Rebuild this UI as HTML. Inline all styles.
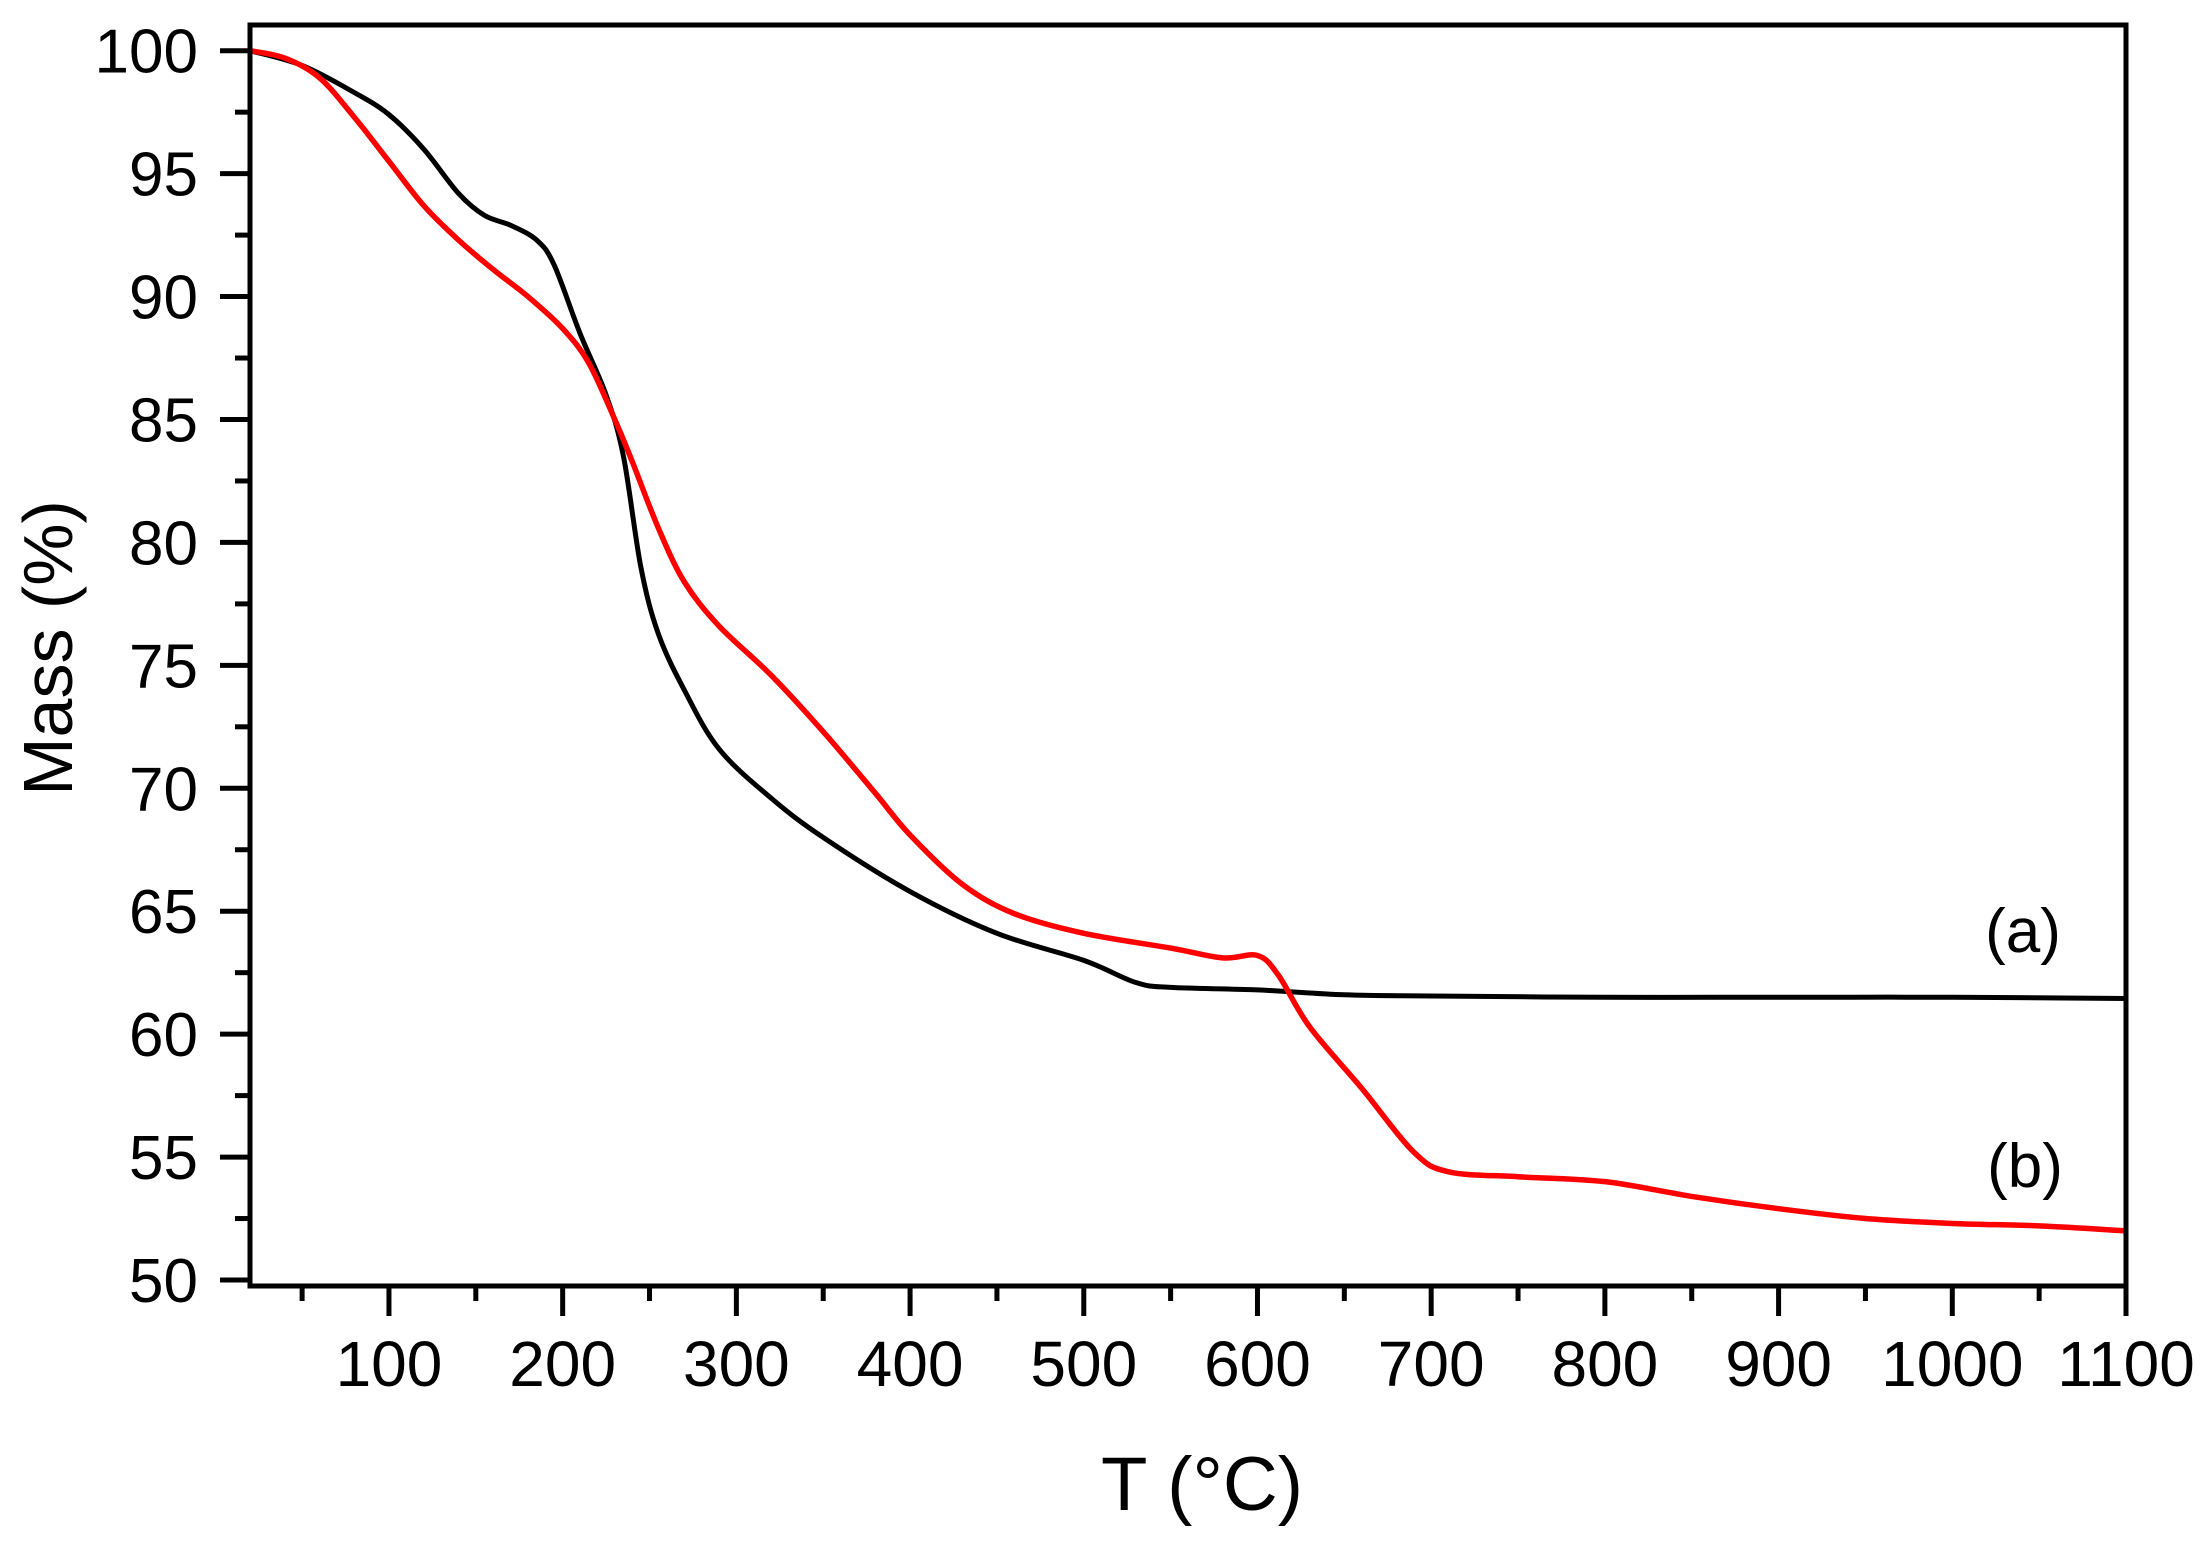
<!DOCTYPE html>
<html><head><meta charset="utf-8"><style>
body{margin:0;background:#fff}
svg{display:block;font-family:"Liberation Sans",Arial,sans-serif}
</style></head><body>
<svg id="chart" width="2210" height="1547" viewBox="0 0 2210 1547">
<g id="grid"></g>
<g id="series"></g>
<rect x="250" y="25" width="1876" height="1261" fill="none" stroke="#000" stroke-width="5"/>
<g id="axes"></g>
<text x="1202" y="1510" font-size="76" text-anchor="middle">T (°C)</text>
<text transform="translate(72,648) rotate(-90)" font-size="70" text-anchor="middle">Mass (%)</text>
<text x="2023" y="952" font-size="62" text-anchor="middle">(a)</text>
<text x="2025" y="1187" font-size="62" text-anchor="middle">(b)</text>
</svg>
<script>
const xTicks=[100,200,300,400,500,600,700,800,900,1000,1100];
const yTicks=[50,55,60,65,70,75,80,85,90,95,100];
const tA=[20,50,80,100,120,140,155,170,185,195,210,225,235,245,255,270,290,320,350,400,450,500,530,550,600,650,700,800,900,1000,1100];
const mA=[100,99.4,98.3,97.4,96.0,94.2,93.3,92.9,92.3,91.3,88.5,86.0,83.5,79,76.3,74,71.6,69.6,68,65.8,64.1,63.0,62.1,61.9,61.8,61.6,61.55,61.5,61.5,61.5,61.45];
const tB=[20,40,60,80,100,120,140,160,180,200,215,230,240,255,270,290,320,350,380,400,430,460,500,550,580,600,612,630,660,690,710,750,800,850,900,950,1000,1050,1100];
const mB=[100,99.7,98.9,97.3,95.5,93.7,92.3,91.1,90.0,88.7,87.3,85.0,83.3,80.6,78.4,76.6,74.6,72.3,69.8,68.1,66.1,64.9,64.1,63.5,63.1,63.2,62.4,60.3,57.8,55.2,54.4,54.2,54.0,53.4,52.9,52.5,52.3,52.2,52.0];
const X=v=>250+(v-20)*(2126-250)/1080;
const Y=v=>1280-(v-50)*(1280-50.7)/50;
const NS='http://www.w3.org/2000/svg';
function mk(t,a,p){const e=document.createElementNS(NS,t);for(const k in a)e.setAttribute(k,a[k]);p.appendChild(e);return e;}
const ax=document.getElementById('axes');
for(let v=50;v<=1100;v+=50){
  const major=xTicks.includes(v);
  const l=mk('line',{x1:X(v),x2:X(v),y1:1286,y2:1286+(major?30:15),stroke:'#000','stroke-width':5},ax);
  
  
}
xTicks.forEach(v=>{const t=mk('text',{x:X(v),y:1386,'font-size':64,'text-anchor':'middle'},ax);t.textContent=v;
  
  });
for(let v=50;v<=100;v+=2.5){
  const major=yTicks.includes(v);
  const l=mk('line',{x1:250-(major?30:15),x2:250,y1:Y(v),y2:Y(v),stroke:'#000','stroke-width':5},ax);
  
  
}
yTicks.forEach(v=>{const t=mk('text',{x:198,y:Y(v)+22,'font-size':62,'text-anchor':'end'},ax);t.textContent=v;
  
  });
function path(xs,ys){
  const p=xs.map((x,i)=>[X(x),Y(ys[i])]);
  let d='M'+p[0][0]+','+p[0][1];
  for(let i=0;i<p.length-1;i++){
    const p0=p[Math.max(i-1,0)],p1=p[i],p2=p[i+1],p3=p[Math.min(i+2,p.length-1)];
    const c1=[p1[0]+(p2[0]-p0[0])/6,p1[1]+(p2[1]-p0[1])/6];
    const c2=[p2[0]-(p3[0]-p1[0])/6,p2[1]-(p3[1]-p1[1])/6];
    d+=`C${c1[0]},${c1[1]} ${c2[0]},${c2[1]} ${p2[0]},${p2[1]}`;
  }
  return d;
}
const sg=document.getElementById('series');
const a=mk('path',{d:path(tA,mA),fill:'none',stroke:'#000','stroke-width':5},sg);


const b=mk('path',{d:path(tB,mB),fill:'none',stroke:'#ff0000','stroke-width':5.5},sg);


</script>
</body></html>
